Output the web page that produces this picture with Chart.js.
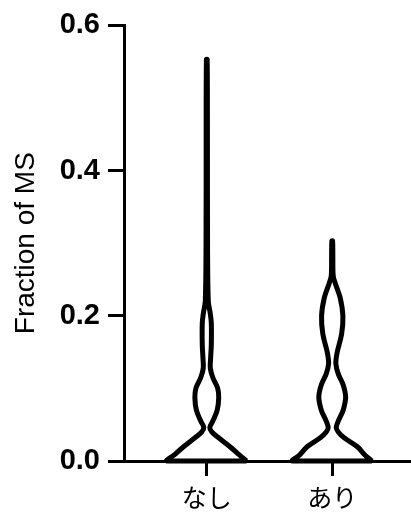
<!DOCTYPE html>
<html>
<head>
<meta charset="utf-8">
<script src="https://cdn.jsdelivr.net/npm/chart.js@4"></script>
<style>
  html, body { margin: 0; padding: 0; background: #fff; }
  #wrap { width: 411px; height: 520px; }
</style>
</head>
<body>
<div id="wrap"><canvas id="violinChart"></canvas></div>
<script>
// --- DATA ---
const categories = ['なし', 'あり'];
const yTicks = [0, 0.2, 0.4, 0.6];

// violin outline: value levels and half widths (in category units)
const nashiLevels = [0, 0.008, 0.019, 0.033, 0.040, 0.046, 0.055, 0.070, 0.087, 0.100, 0.115, 0.128, 0.140, 0.160, 0.190, 0.205, 0.220, 0.300, 0.450, 0.553];
const nashiWidths = [0.317, 0.262, 0.190, 0.087, 0.040, 0.024, 0.048, 0.083, 0.095, 0.087, 0.048, 0.028, 0.030, 0.036, 0.036, 0.026, 0.012, 0.006, 0.005, 0.003];

const ariLevels = [0, 0.008, 0.020, 0.032, 0.040, 0.046, 0.055, 0.070, 0.088, 0.105, 0.120, 0.134, 0.150, 0.175, 0.200, 0.225, 0.245, 0.255, 0.280, 0.303];
const ariWidths = [0.317, 0.262, 0.198, 0.095, 0.048, 0.032, 0.048, 0.087, 0.107, 0.087, 0.048, 0.029, 0.040, 0.075, 0.085, 0.063, 0.024, 0.008, 0.005, 0.003];

// build a closed outline around category position
function outline(pos, levels, widths) {
    const pts = [];
    for (let i = 0; i < levels.length; i++) pts.push({ x: pos + widths[i], y: levels[i] });
    for (let i = levels.length - 1; i >= 0; i--) pts.push({ x: pos - widths[i], y: levels[i] });
    pts.push({ x: pos + widths[0], y: levels[0] });
    return pts;
}

function violinSet(data) {
    return {
        data: data,
        showLine: true,
        fill: false,
        borderColor: '#000',
        borderWidth: 5,
        pointRadius: 0,
        tension: 0.35,
        clip: false
    };
}

document.addEventListener('DOMContentLoaded', () => {
    const ctx = document.getElementById('violinChart');

    new Chart(ctx, {
        type: 'scatter',
        data: {
            datasets: [
                violinSet(outline(1, nashiLevels, nashiWidths)),
                violinSet(outline(2, ariLevels, ariWidths))
            ]
        },
        options: {
            responsive: true,
            maintainAspectRatio: false,
            animation: false,
            layout: { padding: { top: 22, right: 1, left: 0, bottom: 0 } },
            plugins: {
                legend: { display: false },
                tooltip: { enabled: false }
            },
            scales: {
                x: {
                    type: 'linear',
                    min: 0.34,
                    max: 2.62,
                    afterBuildTicks: (scale) => {
                        scale.ticks = categories.map((c, i) => ({ value: i + 1 }));
                    },
                    afterFit: (scale) => { scale.height = 59; },
                    border: { color: '#000', width: 3 },
                    grid: {
                        drawOnChartArea: false,
                        drawTicks: true,
                        tickLength: 15,
                        tickColor: '#000',
                        tickWidth: 3
                    },
                    ticks: {
                        color: '#000',
                        padding: 6,
                        font: { family: '"Noto Sans CJK JP", sans-serif', size: 25 },
                        callback: (v) => categories[Math.round(v) - 1] || ''
                    }
                },
                y: {
                    min: 0,
                    max: 0.6,
                    afterBuildTicks: (scale) => {
                        scale.ticks = yTicks.map(v => ({ value: v }));
                    },
                    afterFit: (scale) => { scale.width = 124; },
                    border: { color: '#000', width: 3 },
                    grid: {
                        drawOnChartArea: false,
                        drawTicks: true,
                        tickLength: 16,
                        tickColor: '#000',
                        tickWidth: 3
                    },
                    ticks: {
                        color: '#000',
                        padding: 8,
                        font: { family: '"Liberation Sans", Arial, sans-serif', size: 29, weight: 'bold' },
                        callback: (v) => Number(v).toFixed(1)
                    },
                    title: {
                        display: true,
                        text: 'Fraction of MS',
                        color: '#000',
                        padding: { top: 9, bottom: 0 },
                        font: { family: '"Liberation Sans", Arial, sans-serif', size: 28 }
                    }
                }
            }
        }
    });
});
</script>
</body>
</html>
